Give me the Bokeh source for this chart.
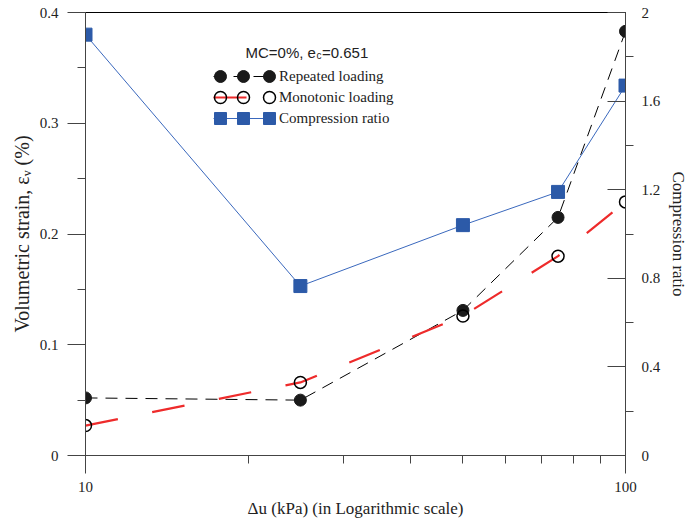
from bokeh.plotting import figure
from bokeh.models import (Range1d, LinearAxis, FixedTicker, CustomJSTickFormatter,
                          Legend, LegendItem, Label)
from bokeh.embed import file_html
from bokeh.resources import INLINE

# ---- data ----
pressure = [10, 25, 50, 75, 100]                 # delta u (kPa)
repeated = [0.052, 0.050, 0.131, 0.215, 0.383]   # volumetric strain (%)
monotonic = [0.027, 0.066, 0.126, 0.180, 0.229]  # volumetric strain (%)
compression = [1.90, 0.765, 1.04, 1.19, 1.67]    # compression ratio

x_major = [10, 100]
x_minor = [20, 30, 40, 50, 60, 70, 80, 90]
left_major = [0, 0.1, 0.2, 0.3, 0.4]
left_minor = [0.05, 0.15, 0.25, 0.35]
right_major = [0, 0.4, 0.8, 1.2, 1.6, 2.0]
right_minor = [0.2, 0.6, 1.0, 1.4, 1.8]

series_labels = ["Repeated loading", "Monotonic loading", "Compression ratio"]

SERIF = "Liberation Serif"
SANS = "Liberation Sans"

p = figure(x_axis_type="log", x_range=Range1d(10, 100), y_range=Range1d(0, 0.4),
           frame_width=540, frame_height=443,
           min_border_left=85, min_border_right=60, min_border_top=12, min_border_bottom=64,
           output_backend="svg", toolbar_location=None)
p.xgrid.visible = False
p.ygrid.visible = False
p.outline_line_color = "black"
p.outline_line_width = 1
p.background_fill_color = "white"
p.border_fill_color = "white"

p.extra_y_ranges = {"cr": Range1d(0, 2)}
right = LinearAxis(y_range_name="cr")
p.add_layout(right, "right")

fmt = CustomJSTickFormatter(code="return String(Math.round(tick*1000)/1000);")

def style(ax):
    ax.axis_line_color = "#444444"
    ax.major_tick_line_color = "#444444"
    ax.minor_tick_line_color = "#444444"
    ax.major_label_text_font = SERIF
    ax.major_label_text_font_size = "15px"
    ax.major_label_text_color = "#222222"
    ax.axis_label_text_font = SERIF
    ax.axis_label_text_font_size = "17px"
    ax.axis_label_text_font_style = "normal"
    ax.axis_label_text_color = "#222222"
    ax.formatter = fmt

xa = p.xaxis[0]
style(xa)
xa.ticker = FixedTicker(ticks=x_major, minor_ticks=x_minor)
xa.major_tick_out = 18
xa.major_tick_in = 0
xa.minor_tick_out = 8
xa.minor_tick_in = 0
xa.major_label_standoff = 8
xa.axis_label = "\u0394u (kPa) (in Logarithmic scale)"
xa.axis_label_standoff = 4

ya = p.yaxis[0]
style(ya)
ya.ticker = FixedTicker(ticks=left_major, minor_ticks=left_minor)
ya.major_tick_out = 18
ya.major_tick_in = 0
ya.minor_tick_out = 8
ya.minor_tick_in = 0
ya.major_label_standoff = 9
ya.axis_label = "Volumetric strain, \u03b5\u1d65 (%)"
ya.axis_label_text_font_size = "20px"
ya.axis_label_standoff = 4

style(right)
right.ticker = FixedTicker(ticks=right_major, minor_ticks=right_minor)
right.major_tick_out = 0
right.major_tick_in = 18
right.minor_tick_out = 8
right.minor_tick_in = 0
right.major_label_standoff = 8
right.axis_label = "Compression ratio"
right.axis_label_standoff = 6

# ---- series ----
blue = "#2c5aa8"
red = "#ee2b2b"

r_line = p.line(pressure, repeated, line_color="black", line_width=1, line_dash="12 8")
r_pts = p.scatter(pressure, repeated, marker="circle", size=12, fill_color="#1a1a1a",
                  line_color="#1a1a1a")

m_line = p.line(pressure, monotonic, line_color=red, line_width=2.2, line_dash="33 35")
m_pts = p.scatter(pressure, monotonic, marker="circle", size=12, fill_color=None,
                  line_color="black", line_width=1.5)

c_line = p.line(pressure, compression, line_color="#3a68bd", line_width=1, y_range_name="cr")
c_pts = p.scatter(pressure, compression, marker="square", size=13, fill_color=blue,
                  line_color=blue, y_range_name="cr")

def make_legend(items, loc, glyph_w):
    lg = Legend(items=items, location=loc, orientation="vertical")
    lg.label_text_font = SERIF
    lg.label_text_font_size = "15px"
    lg.label_text_color = "#222222"
    lg.glyph_width = glyph_w
    lg.glyph_height = 30
    lg.label_height = 20
    lg.label_standoff = 6
    lg.spacing = 0
    lg.padding = 0
    lg.margin = 0
    lg.border_line_alpha = 0
    lg.background_fill_alpha = 0
    p.add_layout(lg, "center")
    return lg

# legend: one row per series (rows 21 px apart), each sample shows three markers
row_bottoms = [364, 343, 322]
line_rs = [r_line, m_line, c_line]
pt_rs = [r_pts, m_pts, c_pts]
for i in range(3):
    make_legend([LegendItem(label=series_labels[i], renderers=[line_rs[i], pt_rs[i]])],
                (128, row_bottoms[i]), 60)
    for lx in (120, 169):
        make_legend([LegendItem(label=" ", renderers=[pt_rs[i]])], (lx, row_bottoms[i]), 30)

# legend title with subscript
t1 = Label(x=160, y=403, x_units="screen", y_units="screen", text="MC=0%, e",
           text_font=SANS, text_font_size="15px", text_color="#222222",
           text_baseline="alphabetic")
t2 = Label(x=231, y=400, x_units="screen", y_units="screen", text="c",
           text_font=SANS, text_font_size="10px", text_color="#222222",
           text_baseline="alphabetic")
t3 = Label(x=236.5, y=403, x_units="screen", y_units="screen", text="=0.651",
           text_font=SANS, text_font_size="15px", text_color="#222222",
           text_baseline="alphabetic")
for t in (t1, t2, t3):
    p.add_layout(t)

open("out.html", "w").write(file_html(p, INLINE))
